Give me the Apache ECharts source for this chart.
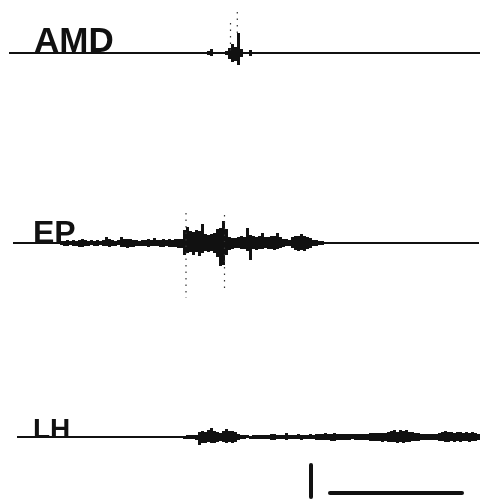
<!DOCTYPE html>
<html>
<head>
<meta charset="utf-8">
<title>AMD / EP / LH</title>
<script src="https://cdn.jsdelivr.net/npm/echarts@6/dist/echarts.min.js"></script>
<style>
  html, body { margin: 0; padding: 0; background: #fff; }
  #main { width: 490px; height: 499px; }
</style>
</head>
<body>
<div id="main"></div>
<script>
// trace labels
var traceNames = ['AMD', 'EP', 'LH'];
// where each trace's baseline starts / ends (time units)
var traceStart = [9, 13, 17];
var traceEnd = [480, 479, 480];

// envelope samples, one every envStep time units: amplitude above / below baseline
var envStep = 3;

var amdEnvStart = 204;
var amdUp   = [1, 2, 4, 1, 1, 1, 1, 2, 5, 9, 6, 20, 4, 1, 1, 3, 1];
var amdDown = [1, 2, 3, 1, 1, 1, 1, 2, 6, 9, 8, 12, 4, 1, 1, 3, 1];

var epEnvStart = 60;
var epUp = [
  2, 2, 3, 2, 3, 2, 3, 4, 3, 2, 3, 2, 3, 2, 3, 6, 4, 3, 2, 3,
  6, 4, 4, 4, 3, 3, 2, 3, 3, 4, 3, 5, 3, 3, 4, 3, 4, 3, 4, 4,
  4, 13, 16, 12, 11, 13, 12, 19, 9, 8, 9, 10, 14, 15, 22, 14, 6, 5, 5, 6,
  7, 6, 15, 8, 7, 6, 7, 10, 6, 6, 7, 7, 10, 6, 4, 4, 3, 6, 7, 7,
  9, 7, 6, 5, 3, 3, 2, 2
];
var epDown = [
  2, 3, 3, 2, 3, 3, 4, 4, 3, 3, 2, 3, 3, 2, 3, 3, 4, 3, 3, 2,
  4, 4, 5, 4, 4, 3, 3, 3, 3, 4, 3, 3, 3, 4, 4, 3, 4, 4, 4, 5,
  5, 12, 10, 9, 12, 9, 13, 10, 8, 9, 8, 10, 14, 23, 22, 12, 7, 6, 5, 5,
  6, 6, 8, 17, 6, 7, 6, 6, 5, 6, 6, 7, 6, 5, 4, 3, 3, 5, 7, 8,
  7, 8, 6, 5, 3, 3, 2, 2
];

var lhEnvStart = 180;
var lhUp = [
  1, 1, 2, 2, 2, 2, 5, 6, 5, 7, 9, 6, 5, 4, 6, 8, 6, 6, 5, 3,
  2, 2, 2, 1, 2, 2, 2, 2, 2, 2, 3, 3, 2, 2, 2, 4, 2, 2, 2, 3,
  2, 2, 2, 3, 2, 3, 3, 3, 4, 3, 3, 4, 3, 3, 3, 3, 3, 3, 3, 3,
  3, 3, 3, 4, 4, 4, 4, 4, 4, 5, 6, 7, 5, 7, 6, 7, 5, 5, 4, 4,
  3, 3, 3, 3, 3, 3, 4, 5, 6, 5, 5, 4, 5, 5, 4, 5, 4, 5, 4, 3
];
var lhDown = [
  1, 2, 2, 2, 2, 3, 8, 6, 6, 5, 6, 6, 5, 4, 5, 6, 5, 6, 5, 3,
  2, 2, 1, 2, 2, 2, 2, 2, 2, 2, 3, 3, 2, 2, 2, 3, 2, 2, 2, 2,
  3, 2, 2, 2, 2, 3, 3, 3, 3, 3, 4, 4, 3, 3, 3, 3, 3, 2, 3, 3,
  3, 3, 3, 4, 4, 4, 4, 5, 4, 5, 5, 5, 6, 5, 6, 5, 5, 4, 4, 4,
  3, 3, 3, 3, 3, 3, 4, 4, 5, 5, 4, 5, 4, 5, 4, 4, 5, 4, 4, 3
];

// faint dotted pen spikes: time, top, bottom
var amdSpikeT = [230.5, 237.3];
var amdSpikeTop = [30, 41];
var amdSpikeBottom = [0, 20];
var epSpikeT = [186, 224.5];
var epSpikeTop = [30, 28];
var epSpikeBottom = [-55, -47];

// calibration bars (drawn in the LH panel)
var calTime = [330, 462];
var calTimeLevel = -56;
var calAmpT = 311;
var calAmp = [-28, -60];

// panel layout: top / height of each grid, baseline sits in the middle
var gridTop = [0, 180, 375];
var gridHeight = [106, 126, 124];

function envelopeData(start, up, down) {
  var out = [];
  for (var i = 0; i < up.length; i++) {
    out.push([start + i * envStep, up[i], down[i]]);
  }
  return out;
}

function spikeData(ts, tops, bottoms) {
  var out = [];
  for (var i = 0; i < ts.length; i++) {
    out.push([ts[i], tops[i], bottoms[i]]);
  }
  return out;
}

// solid block from +up to -down for one envelope sample
function renderEnvelope(params, api) {
  var t = api.value(0);
  var p1 = api.coord([t, api.value(1)]);
  var p2 = api.coord([t + envStep, -api.value(2)]);
  return {
    type: 'rect',
    shape: { x: p1[0], y: p1[1], width: p2[0] - p1[0], height: p2[1] - p1[1] },
    style: { fill: '#111' }
  };
}

// dotted vertical stroke
function renderSpike(params, api) {
  var t = api.value(0);
  var p1 = api.coord([t, api.value(1)]);
  var p2 = api.coord([t, api.value(2)]);
  return {
    type: 'line',
    shape: { x1: p1[0], y1: p1[1], x2: p2[0], y2: p2[1] },
    style: { stroke: '#333', lineWidth: 1.2, lineDash: [1.5, 5] }
  };
}

var chart = echarts.init(document.getElementById('main'), null, {
  width: 490,
  height: 499,
  devicePixelRatio: 1
});

var grids = [], xAxes = [], yAxes = [], series = [];
for (var g = 0; g < 3; g++) {
  grids.push({ left: 0, right: 0, top: gridTop[g], height: gridHeight[g] });
  xAxes.push({ type: 'value', gridIndex: g, min: 0, max: 490, show: false });
  yAxes.push({ type: 'value', gridIndex: g, min: -gridHeight[g] / 2, max: gridHeight[g] / 2, show: false });
  // baseline
  series.push({
    type: 'line',
    xAxisIndex: g,
    yAxisIndex: g,
    symbol: 'none',
    silent: true,
    lineStyle: { color: '#111', width: 2 },
    data: [[traceStart[g], 0], [traceEnd[g], 0]]
  });
}

var envs = [
  envelopeData(amdEnvStart, amdUp, amdDown),
  envelopeData(epEnvStart, epUp, epDown),
  envelopeData(lhEnvStart, lhUp, lhDown)
];
for (var k = 0; k < 3; k++) {
  series.push({
    type: 'custom',
    xAxisIndex: k,
    yAxisIndex: k,
    silent: true,
    renderItem: renderEnvelope,
    data: envs[k]
  });
}

series.push({
  type: 'custom', xAxisIndex: 0, yAxisIndex: 0, silent: true,
  renderItem: renderSpike,
  data: spikeData(amdSpikeT, amdSpikeTop, amdSpikeBottom)
});
series.push({
  type: 'custom', xAxisIndex: 1, yAxisIndex: 1, silent: true,
  renderItem: renderSpike,
  data: spikeData(epSpikeT, epSpikeTop, epSpikeBottom)
});

// calibration bars
series.push({
  type: 'line', xAxisIndex: 2, yAxisIndex: 2, symbol: 'none', silent: true,
  lineStyle: { color: '#111', width: 4, cap: 'round' },
  data: [[calTime[0], calTimeLevel], [calTime[1], calTimeLevel]]
});
series.push({
  type: 'line', xAxisIndex: 2, yAxisIndex: 2, symbol: 'none', silent: true,
  lineStyle: { color: '#111', width: 4, cap: 'round' },
  data: [[calAmpT, calAmp[0]], [calAmpT, calAmp[1]]]
});

var labelFont = [35, 32, 28];
var labelY = [42.5, 234, 430];
var labelX = [34, 33, 33];
var texts = [];
for (var n = 0; n < 3; n++) {
  texts.push({
    type: 'text',
    left: labelX[n],
    top: labelY[n] - labelFont[n] * 0.5,
    silent: true,
    style: {
      text: traceNames[n],
      font: 'bold ' + labelFont[n] + 'px "Liberation Sans", Arial, sans-serif',
      fill: '#111'
    }
  });
}

var option = {
  animation: false,
  backgroundColor: '#fff',
  grid: grids,
  xAxis: xAxes,
  yAxis: yAxes,
  series: series,
  graphic: texts
};

chart.setOption(option);
</script>
</body>
</html>
